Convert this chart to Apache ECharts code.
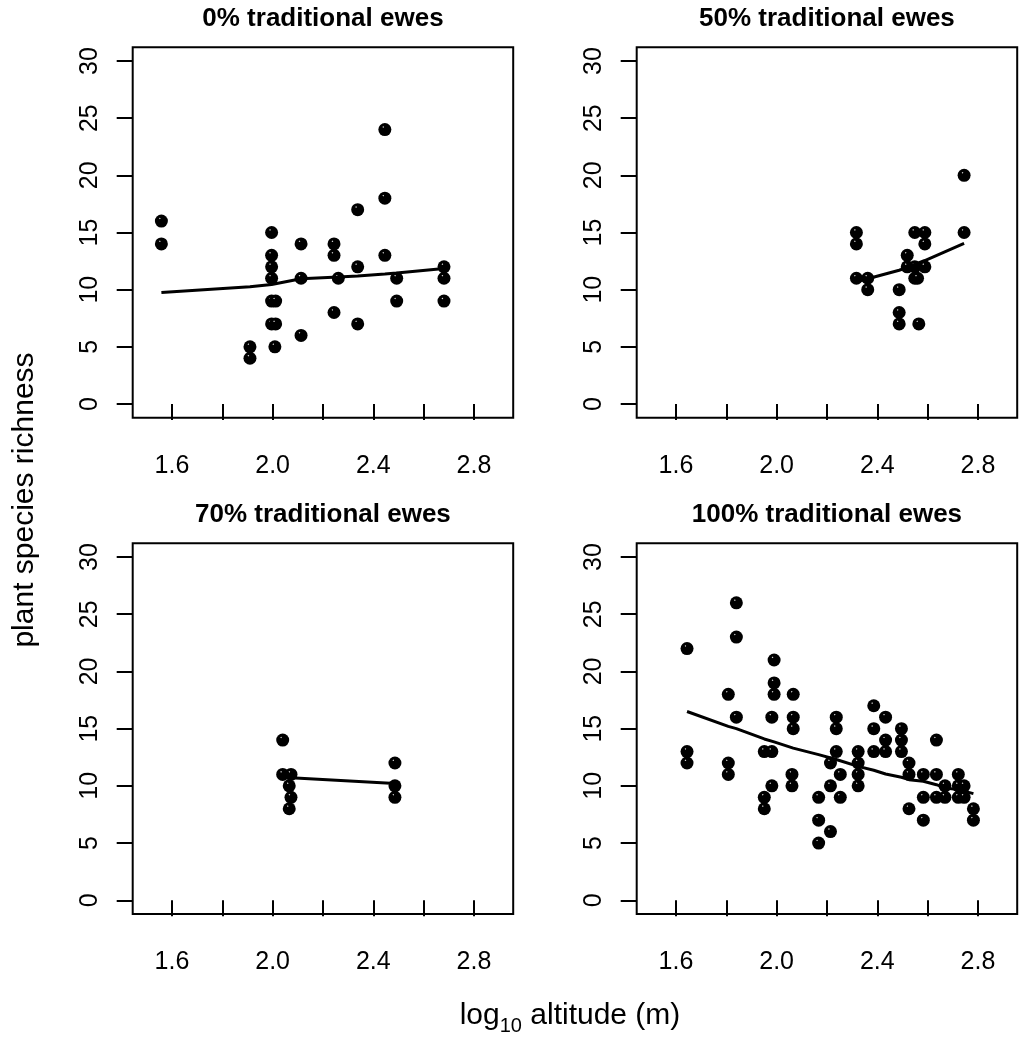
<!DOCTYPE html>
<html>
<head>
<meta charset="utf-8">
<script src="https://cdn.jsdelivr.net/npm/echarts@6/dist/echarts.min.js"></script>
<style>
html,body{margin:0;padding:0;background:#fff;}
#c{width:1019px;height:1038px;}
</style>
</head>
<body>
<div id="c"></div>
<script>
// ---- data ----
const panelTitles = ['0% traditional ewes', '50% traditional ewes', '70% traditional ewes', '100% traditional ewes'];
const xTickValues = [1.6, 1.8, 2.0, 2.2, 2.4, 2.6, 2.8];
const xLabelValues = [1.6, 2.0, 2.4, 2.8];
const yTickValues = [0, 5, 10, 15, 20, 25, 30];
const xRange = [1.444, 2.956];
const yRange = [-1.2, 31.2];

const points0 = [
  [1.558,16],[1.558,14],[1.91,5],[1.91,4],[1.996,15],[1.996,13],[1.996,12],[1.996,11],
  [1.996,9],[2.012,9],[1.996,7],[2.012,7],[2.009,5],[2.113,14],[2.113,11],[2.113,6],
  [2.244,14],[2.244,13],[2.261,11],[2.244,8],[2.338,17],[2.338,12],[2.338,7],
  [2.446,24],[2.446,18],[2.446,13],[2.493,11],[2.493,9],[2.681,12],[2.681,11],[2.681,9]
];
const points50 = [
  [2.317,15],[2.317,14],[2.317,11],[2.362,11],[2.362,10],[2.487,10],[2.487,8],[2.487,7],
  [2.519,13],[2.519,12],[2.549,15],[2.549,12],[2.549,11],[2.56,11],[2.589,15],[2.589,14],
  [2.589,12],[2.565,7],[2.745,20],[2.745,15]
];
const points70 = [
  [2.04,14],[2.04,11],[2.073,11],[2.066,10],[2.073,9],[2.066,8],[2.486,12],[2.486,10],[2.486,9]
];
const points100 = [
  [1.644,22],[1.644,13],[1.644,12],[1.808,18],[1.808,12],[1.808,11],[1.84,26],[1.84,23],[1.84,16],
  [1.951,13],[1.951,9],[1.951,8],[1.981,13],[1.981,16],[1.981,10],[1.99,21],[1.99,19],[1.99,18],
  [2.066,18],[2.066,16],[2.066,15],[2.061,11],[2.061,10],[2.167,9],[2.167,7],[2.167,5],
  [2.214,12],[2.214,10],[2.214,6],[2.237,16],[2.237,15],[2.237,13],[2.253,11],[2.253,9],
  [2.324,13],[2.324,12],[2.324,11],[2.324,10],[2.386,17],[2.386,15],[2.386,13],
  [2.433,16],[2.433,14],[2.433,13],[2.496,15],[2.496,14],[2.496,13],[2.526,12],[2.526,11],[2.526,8],
  [2.583,11],[2.583,9],[2.583,7],[2.635,14],[2.635,11],[2.635,9],[2.669,10],[2.669,9],
  [2.722,11],[2.722,10],[2.722,9],[2.745,10],[2.745,9],[2.782,8],[2.782,7]
];

const fit0 = [[1.558,9.76],[1.91,10.25],[1.996,10.45],[2.113,10.95],[2.261,11.1],[2.338,11.2],[2.446,11.36],[2.493,11.45],[2.681,11.86]];
const fit50 = [[2.317,10.7],[2.362,10.95],[2.487,11.7],[2.519,11.95],[2.549,12.2],[2.589,12.55],[2.745,14.05]];
const fit70 = [[2.04,10.75],[2.073,10.7],[2.486,10.2]];
const fit100 = [[1.644,16.5],[1.808,15.2],[1.84,15.0],[1.951,14.1],[1.99,13.84],[2.066,13.3],[2.167,12.73],[2.237,12.3],[2.324,11.7],[2.386,11.36],[2.433,11.04],[2.496,10.75],[2.526,10.54],[2.583,10.4],[2.635,10.1],[2.669,9.82],[2.722,9.67],[2.782,9.32]];

const allPoints = [points0, points50, points70, points100];
const allFits = [fit0, fit50, fit70, fit100];

// ---- layout ----
const FONT = '"Liberation Sans", Arial, Helvetica, sans-serif';
const grids = [
  {left: 132.7, top: 47.3, width: 380.5, height: 370.4},
  {left: 636.7, top: 47.3, width: 380.5, height: 370.4},
  {left: 132.7, top: 543.3, width: 380.5, height: 370.7},
  {left: 636.7, top: 543.3, width: 380.5, height: 370.7}
];

const chart = echarts.init(document.getElementById('c'), null, {renderer: 'canvas'});

const dotColor = new echarts.graphic.RadialGradient(0.38, 0.3, 0.55, [
  {offset: 0, color: '#e8e8e8'},
  {offset: 0.16, color: '#000'},
  {offset: 1, color: '#000'}
]);

const option = {
  animation: false,
  backgroundColor: '#fff',
  title: grids.map((g, i) => ({
    text: panelTitles[i],
    left: g.left + g.width / 2,
    top: g.top - 41,
    textAlign: 'center',
    padding: 0,
    textStyle: {fontFamily: FONT, fontSize: 26, fontWeight: 'bold', color: '#000'}
  })),
  grid: grids.map(g => Object.assign({show: true, borderColor: '#000', borderWidth: 2, backgroundColor: 'transparent', containLabel: false}, g)),
  xAxis: grids.map((g, i) => ({
    type: 'value', gridIndex: i, min: xRange[0], max: xRange[1],
    axisLine: {show: false},
    splitLine: {show: false},
    axisTick: {show: true, length: 16, inside: false, lineStyle: {color: '#000', width: 2}, customValues: xTickValues},
    axisLabel: {show: true, margin: 36, customValues: xLabelValues, fontSize: 25, fontFamily: FONT, color: '#000',
      formatter: v => Number(v).toFixed(1)}
  })),
  yAxis: grids.map((g, i) => ({
    type: 'value', gridIndex: i, min: yRange[0], max: yRange[1],
    axisLine: {show: false},
    splitLine: {show: false},
    axisTick: {show: true, length: 16, inside: false, lineStyle: {color: '#000', width: 2}, customValues: yTickValues},
    axisLabel: {show: true, margin: 30, rotate: 90, customValues: yTickValues, fontSize: 25, fontFamily: FONT, color: '#000',
      formatter: v => String(Math.round(v))}
  })),
  series: [].concat(
    allPoints.map((pts, i) => ({
      type: 'scatter', xAxisIndex: i, yAxisIndex: i, data: pts,
      symbol: 'circle', symbolSize: 13, z: 2,
      itemStyle: {color: dotColor, opacity: 1},
      emphasis: {disabled: true}
    })),
    allFits.map((fit, i) => ({
      type: 'line', xAxisIndex: i, yAxisIndex: i, data: fit,
      showSymbol: false, symbol: 'none', z: 3,
      lineStyle: {color: '#000', width: 3},
      emphasis: {disabled: true}
    }))
  ),
  graphic: [
    {
      type: 'text', x: 25, y: 500, rotation: Math.PI / 2,
      style: {text: 'plant species richness', fontSize: 30, fontFamily: FONT, fill: '#000', align: 'center', verticalAlign: 'middle'}
    },
    {
      type: 'text', x: 570, y: 1016,
      style: {
        text: '{a|log}{b|10}{a| altitude (m)}',
        align: 'center', verticalAlign: 'middle', fill: '#000',
        rich: {
          a: {fontSize: 30, fontFamily: FONT, lineHeight: 40, verticalAlign: 'middle', color: '#000'},
          b: {fontSize: 20, fontFamily: FONT, lineHeight: 40, verticalAlign: 'bottom', color: '#000'}
        }
      }
    }
  ]
};
chart.setOption(option);
</script>
</body>
</html>
